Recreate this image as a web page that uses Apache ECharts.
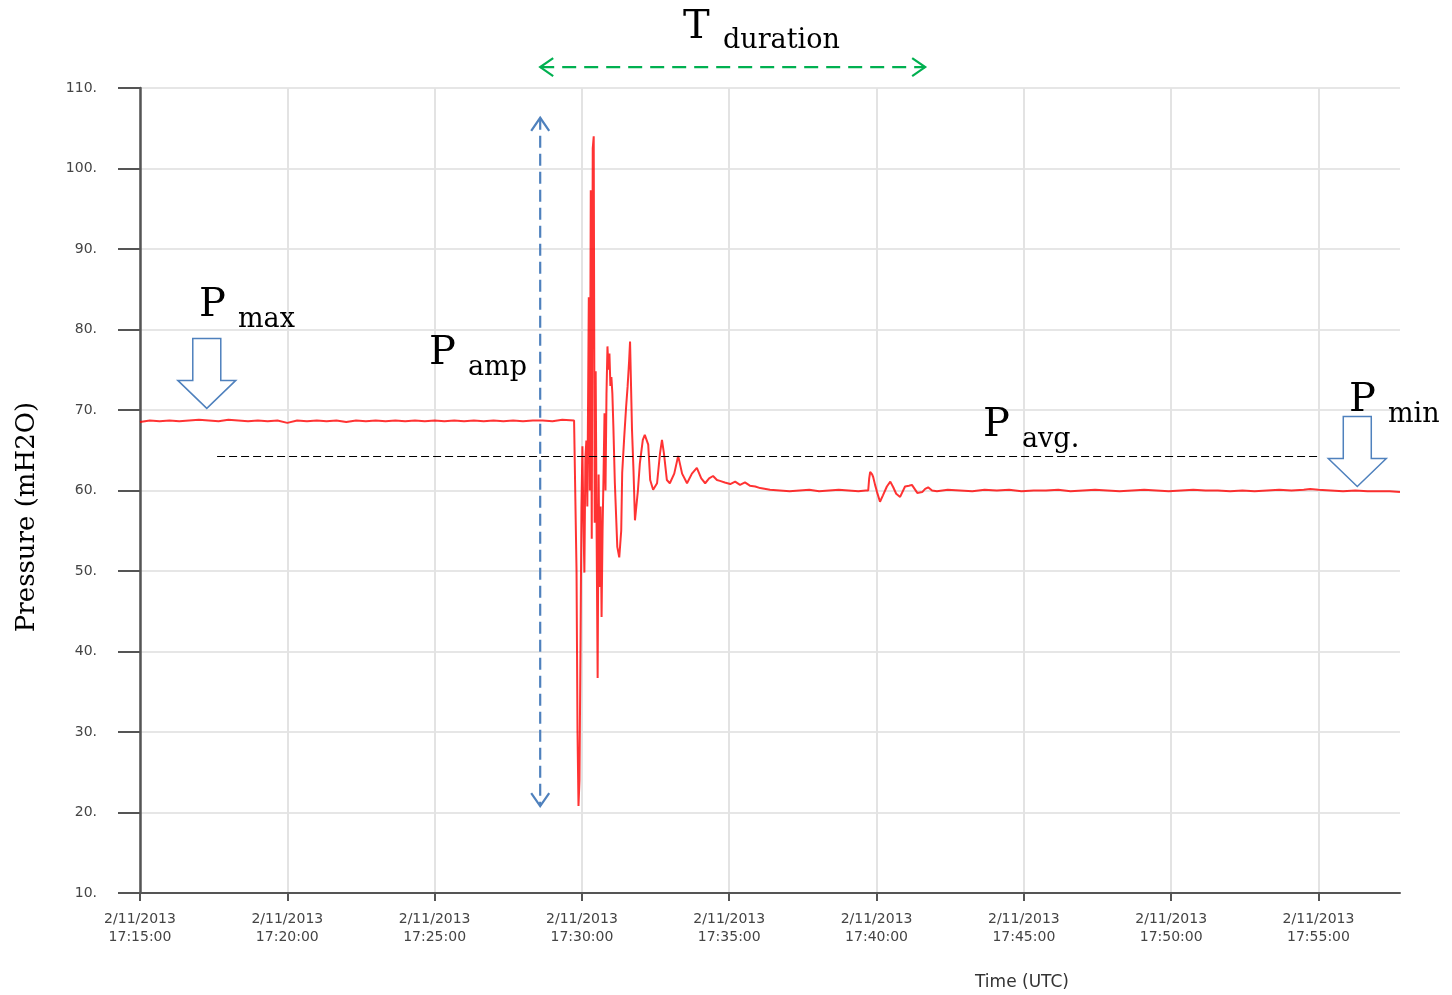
<!DOCTYPE html>
<html>
<head>
<meta charset="utf-8">
<title>Pressure transient</title>
<script src="https://cdn.jsdelivr.net/npm/echarts@6/dist/echarts.min.js"></script>
<style>
  html, body { margin: 0; padding: 0; background: #fff; }
  #chart { width: 1452px; height: 995px; }
</style>
</head>
<body>
<div id="chart"></div>
<script>
// seconds after 2/11/2013 17:15:00 (UTC)
const timeSec = [
  0, 20, 40, 60, 80, 100, 120, 140, 160, 180, 200, 220, 240, 260, 280, 300, 320, 340, 360, 380,
  400, 420, 440, 460, 480, 500, 520, 540, 560, 580, 600, 620, 640, 660, 680, 700, 720, 740, 760, 780,
  800, 820, 840, 860, 884,
  887, 889, 891, 893, 895, 897, 899, 901, 903, 905, 907, 909, 911, 914, 916, 918, 920, 922, 924, 926,
  928, 930, 932, 934, 936, 938, 940, 942, 944, 946, 948, 950, 952, 954, 956, 958, 960, 962, 964, 967,
  972, 976, 980, 982, 986, 990, 993, 996, 998, 1002, 1005, 1008, 1012, 1014, 1018, 1024, 1028, 1035, 1039, 1045,
  1053, 1059, 1063, 1067, 1073, 1079, 1088, 1096, 1104, 1114, 1124, 1134, 1143, 1151, 1159, 1167, 1175, 1181,
  1191, 1202, 1212, 1222, 1232, 1242, 1253, 1263, 1283, 1303, 1323, 1343, 1363, 1383, 1403, 1423, 1443, 1463, 1478,
  1483, 1485, 1487, 1491, 1493, 1497, 1501, 1507, 1513, 1521, 1528, 1534, 1540, 1548, 1558, 1566, 1572, 1583, 1593, 1599,
  1605, 1613, 1623, 1645, 1670, 1695, 1720, 1745, 1770, 1795, 1820, 1845, 1870, 1895, 1920, 1945, 1970, 1995, 2020, 2045,
  2070, 2095, 2120, 2145, 2170, 2195, 2220, 2245, 2270, 2295, 2320, 2345, 2370, 2383, 2400, 2425, 2450, 2475, 2500, 2525,
  2545, 2566
];

// pressure, mH2O
const pressure = [
  68.5, 68.7, 68.6, 68.7, 68.6, 68.7, 68.8, 68.7, 68.6, 68.8, 68.7, 68.6, 68.7, 68.6, 68.7, 68.4, 68.7, 68.6, 68.7, 68.6,
  68.7, 68.5, 68.7, 68.6, 68.7, 68.6, 68.7, 68.6, 68.7, 68.6, 68.7, 68.6, 68.7, 68.6, 68.7, 68.6, 68.7, 68.6, 68.7, 68.6,
  68.7, 68.7, 68.6, 68.8, 68.7,
  68.6, 50, 30, 20.8, 24, 40, 58, 65.5, 56, 49.8, 64, 66.2, 58, 84, 60, 97.3, 54, 102.5, 104, 56,
  74.8, 54, 36.7, 62, 48, 58, 44.3, 55, 62, 69.6, 60, 72, 77.9, 75, 77, 73, 74.1, 72, 68, 61,
  53, 51.7, 55, 62.2, 66.5, 70.4, 72.9, 76, 78.5, 67.5, 62.5, 56.3, 56.5, 60, 63.4, 66.3, 66.9, 65.7, 61.3, 60.1,
  60.9, 64.6, 66.3, 64.6, 61.3, 60.9, 62.1, 64.3, 62.1, 60.9, 62.1, 62.8, 61.5, 60.9, 61.5, 61.8, 61.3, 61.2,
  61.0, 60.8, 61.1, 60.7, 61.0, 60.6, 60.5, 60.3, 60.1, 60.0, 59.9, 60.0, 60.1, 59.9, 60.0, 60.1, 60.0, 59.9, 60.0,
  60.0, 61.5, 62.3, 62.0, 61.7, 60.7, 59.8, 58.6, 59.4, 60.5, 61.1, 60.4, 59.6, 59.2, 60.5, 60.6, 60.7, 59.7, 59.8, 60.2,
  60.4, 60.0, 59.9, 60.1, 60.0, 59.9, 60.1, 60.0, 60.1, 59.9, 60.0, 60.0, 60.1, 59.9, 60.0, 60.1, 60.0, 59.9, 60.0, 60.1,
  60.0, 59.9, 60.0, 60.1, 60.0, 60.0, 59.9, 60.0, 59.9, 60.0, 60.1, 60.0, 60.1, 60.2, 60.1, 60.0, 59.9, 60.0, 59.9, 59.9,
  59.9, 59.8
];

const xTickSecs = [0, 300, 600, 900, 1200, 1500, 1800, 2100, 2400];
const xTickLabels = ['17:15:00', '17:20:00', '17:25:00', '17:30:00', '17:35:00', '17:40:00', '17:45:00', '17:50:00', '17:55:00'];
const dateLabel = '2/11/2013';

// annotation anchors, in (seconds, mH2O)
const ampArrow = [[815, 106.3], [815, 20.8]];
const durArrow = [[815, 112.6], [1599, 112.6]];
const avgLine = [[157, 64.2], [2399, 64.2]];
const maxMarker = [136, 70.2];
const minMarker = [2479, 60.5];

const dom = document.getElementById('chart');
const myChart = echarts.init(dom);

const seriesData = timeSec.map((t, i) => [t, pressure[i]]);
const serif = '"DejaVu Serif", "Liberation Serif", serif';
const axisFont = '"DejaVu Sans", sans-serif';

const option = {
  animation: false,
  grid: { left: 140, right: 52, top: 88, bottom: 102 },
  xAxis: {
    type: 'value',
    min: 0,
    max: 2566,
    interval: 300,
    axisLine: { show: true, lineStyle: { color: '#555', width: 2 } },
    axisTick: { show: true, length: 8, customValues: xTickSecs, lineStyle: { color: '#555', width: 2 } },
    axisLabel: {
      customValues: xTickSecs,
      margin: 17,
      color: '#444',
      fontFamily: axisFont,
      fontSize: 14,
      lineHeight: 18,
      formatter: function (v) {
        const i = xTickSecs.indexOf(v);
        return i < 0 ? '' : dateLabel + '\n' + xTickLabels[i];
      }
    },
    splitLine: { show: true, lineStyle: { color: '#e3e3e3', width: 2 } }
  },
  yAxis: {
    type: 'value',
    min: 10,
    max: 110,
    interval: 10,
    axisLine: { show: true, lineStyle: { color: '#555', width: 2.5 } },
    axisTick: { show: true, inside: false, length: 22, lineStyle: { color: '#555', width: 2 } },
    axisLabel: {
      margin: 43,
      color: '#444',
      fontFamily: axisFont,
      fontSize: 14,
      formatter: v => v + '.'
    },
    splitLine: { show: true, lineStyle: { color: '#e6e6e6', width: 2 } }
  },
  series: [
    {
      type: 'line',
      data: seriesData,
      showSymbol: false,
      symbol: 'none',
      lineStyle: { color: '#ff0000', width: 2, opacity: 0.8 },
      markLine: {
        silent: true,
        symbol: 'none',
        label: { show: false },
        lineStyle: { color: '#000', width: 1, type: [8, 4] },
        data: [[{ coord: avgLine[0] }, { coord: avgLine[1] }]]
      }
    }
  ]
};

option && myChart.setOption(option);

// annotations drawn on top, placed through the grid's own scales
function px(p) { return myChart.convertToPixel({ gridIndex: 0 }, p); }

function dashedArrow(a, b, color, dash) {
  const dx = b[0] - a[0], dy = b[1] - a[1];
  const len = Math.sqrt(dx * dx + dy * dy);
  const ux = dx / len, uy = dy / len;
  const hl = 13, hw = 9;
  const head = (tip, dir) => [
    [tip[0] - dir[0] * hl - dir[1] * hw, tip[1] - dir[1] * hl + dir[0] * hw],
    tip,
    [tip[0] - dir[0] * hl + dir[1] * hw, tip[1] - dir[1] * hl - dir[0] * hw]
  ];
  const st = { stroke: color, lineWidth: 2.2, fill: null };
  return [
    { type: 'line', shape: { x1: a[0], y1: a[1], x2: b[0], y2: b[1] }, style: Object.assign({ lineDash: dash }, st) },
    { type: 'polyline', shape: { points: head(a, [-ux, -uy]) }, style: st },
    { type: 'polyline', shape: { points: head(b, [ux, uy]) }, style: st }
  ];
}

function blockArrow(tip) {
  const x = tip[0], y = tip[1];
  const sw = 14, hw = 29, hh = 28, total = 70;
  return {
    type: 'polygon',
    shape: {
      points: [
        [x - sw, y - total], [x + sw, y - total], [x + sw, y - hh], [x + hw, y - hh],
        [x, y], [x - hw, y - hh], [x - sw, y - hh]
      ]
    },
    style: { fill: '#fff', stroke: '#4f81bd', lineWidth: 1.5 }
  };
}

function label(main, sub, x, base) {
  return [
    { type: 'text', x: x, y: base - 14, style: { text: main, font: '40px ' + serif, fill: '#000', verticalAlign: 'middle' } },
    { type: 'text', x: x + 39, y: base - 0.5, style: { text: sub, font: '27px ' + serif, fill: '#000', verticalAlign: 'middle' } }
  ];
}

const graphics = []
  .concat(dashedArrow(px(ampArrow[0]), px(ampArrow[1]), '#4f81bd', [12, 6]))
  .concat(dashedArrow(px(durArrow[0]), px(durArrow[1]), '#00b050', [14, 8]))
  .concat([blockArrow(px(maxMarker)), blockArrow(px(minMarker))])
  .concat(label('P', 'max', 199, 320))
  .concat(label('P', 'amp', 429, 368))
  .concat(label('P', 'avg.', 983, 440))
  .concat(label('P', 'min', 1349, 415))
  .concat([
    { type: 'text', x: 683, y: 28, style: { text: 'T', font: '40px ' + serif, fill: '#000', verticalAlign: 'middle' } },
    { type: 'text', x: 723, y: 41, style: { text: 'duration', font: '27px ' + serif, fill: '#000', verticalAlign: 'middle' } },
    { type: 'text', x: 1022, y: 983, style: { text: 'Time (UTC)', font: '17px ' + axisFont, fill: '#333', align: 'center', verticalAlign: 'middle' } },
    { type: 'text', x: 27, y: 517, rotation: Math.PI / 2, style: { text: 'Pressure (mH2O)', font: '26px ' + serif, fill: '#000', align: 'center', verticalAlign: 'middle' } }
  ]);

myChart.setOption({ graphic: graphics });
</script>
</body>
</html>
